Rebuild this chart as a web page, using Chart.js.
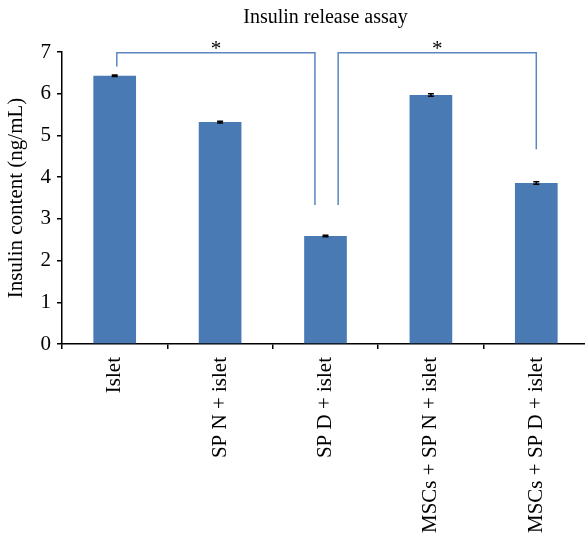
<!DOCTYPE html>
<html>
<head>
<meta charset="utf-8">
<script src="https://cdn.jsdelivr.net/npm/chart.js@4.4.0/dist/chart.umd.min.js"></script>
<style>
  html, body { margin: 0; padding: 0; background: #fff; overflow: hidden; }
  .wrap { width: 592px; height: 533px; }
</style>
</head>
<body>
<div class="wrap"><canvas id="insulinChart" width="592" height="533"></canvas></div>
<script>
  // Data
  const groups = ['Islet', 'SP N + islet', 'SP D + islet', 'MSCs + SP N + islet', 'MSCs + SP D + islet'];
  const insulin = [6.43, 5.32, 2.59, 5.97, 3.86];
  const errors = [0.02, 0.02, 0.02, 0.03, 0.03];
  const yTicks = [0, 1, 2, 3, 4, 5, 6, 7];

  // significance brackets: [x start, x end] in category index units,
  // [left drop, top, right drop] in ng/mL
  const bracketX = [[0.02, 1.9], [2.12, 4.0]];
  const bracketY = [[6.65, 6.98, 3.33], [3.33, 6.98, 4.67]];
  const bracketMark = ['*', '*'];

  const serif = '"Liberation Serif", "Times New Roman", serif';

  // error bars + brackets
  const extras = {
    id: 'extras',
    afterDatasetsDraw(chart) {
      const c = chart.ctx;
      const x = chart.scales.x;
      const y = chart.scales.y;
      c.save();
      c.strokeStyle = '#000';
      c.lineWidth = 1.5;
      insulin.forEach(function (v, i) {
        const px = x.getPixelForValue(i);
        const top = y.getPixelForValue(v + errors[i]);
        const bot = y.getPixelForValue(v - errors[i]);
        c.beginPath();
        c.moveTo(px, top); c.lineTo(px, bot);
        c.moveTo(px - 3, top); c.lineTo(px + 3, top);
        c.moveTo(px - 3, bot); c.lineTo(px + 3, bot);
        c.stroke();
      });

      c.strokeStyle = '#5b86c0';
      c.lineWidth = 1.5;
      c.fillStyle = '#000';
      c.font = '21px ' + serif;
      c.textAlign = 'center';
      c.textBaseline = 'alphabetic';
      bracketX.forEach(function (bx, k) {
        const x1 = x.getPixelForValue(bx[0]);
        const x2 = x.getPixelForValue(bx[1]);
        const yl = y.getPixelForValue(bracketY[k][0]);
        const yt = y.getPixelForValue(bracketY[k][1]);
        const yr = y.getPixelForValue(bracketY[k][2]);
        c.beginPath();
        c.moveTo(x1, yl); c.lineTo(x1, yt); c.lineTo(x2, yt); c.lineTo(x2, yr);
        c.stroke();
        c.fillText(bracketMark[k], (x1 + x2) / 2, yt + 2);
      });
      c.restore();
    }
  };

  const ctx = document.getElementById('insulinChart');
  new Chart(ctx, {
    type: 'bar',
    data: {
      labels: groups,
      datasets: [{
        label: 'Insulin content',
        data: insulin,
        backgroundColor: '#4a7ab4',
        barPercentage: 0.405,
        categoryPercentage: 1
      }]
    },
    options: {
      responsive: false,
      animation: false,
      layout: { padding: { left: 0, right: 3, top: 0, bottom: 0 } },
      plugins: {
        legend: { display: false },
        tooltip: { enabled: false },
        title: {
          display: true,
          text: 'Insulin release assay',
          fullSize: false,
          color: '#000',
          font: { family: serif, size: 20, weight: 'normal' },
          padding: { top: 6, bottom: 22 }
        }
      },
      scales: {
        x: {
          border: { color: '#000', width: 1.5 },
          grid: { display: true, drawOnChartArea: false, drawTicks: true, tickLength: 5, color: '#000', lineWidth: 1.5, offset: true },
          ticks: {
            color: '#000',
            font: { family: serif, size: 21 },
            maxRotation: 90,
            minRotation: 90,
            padding: 8,
            autoSkip: false
          },
          afterFit: function (s) { s.height = 189; }
        },
        y: {
          min: 0,
          max: 7,
          border: { color: '#000', width: 1.5 },
          grid: { drawOnChartArea: false, drawTicks: true, tickLength: 5, color: '#000', lineWidth: 1.5 },
          afterBuildTicks: function (s) { s.ticks = yTicks.map(function (v) { return { value: v }; }); },
          ticks: {
            color: '#000',
            font: { family: serif, size: 21 },
            padding: 6
          },
          title: {
            display: true,
            text: 'Insulin content (ng/mL)',
            color: '#000',
            font: { family: serif, size: 21 },
            padding: { top: 4, bottom: 4 }
          },
          afterFit: function (s) { s.width = 62; }
        }
      }
    },
    plugins: [extras]
  });
</script>
</body>
</html>
